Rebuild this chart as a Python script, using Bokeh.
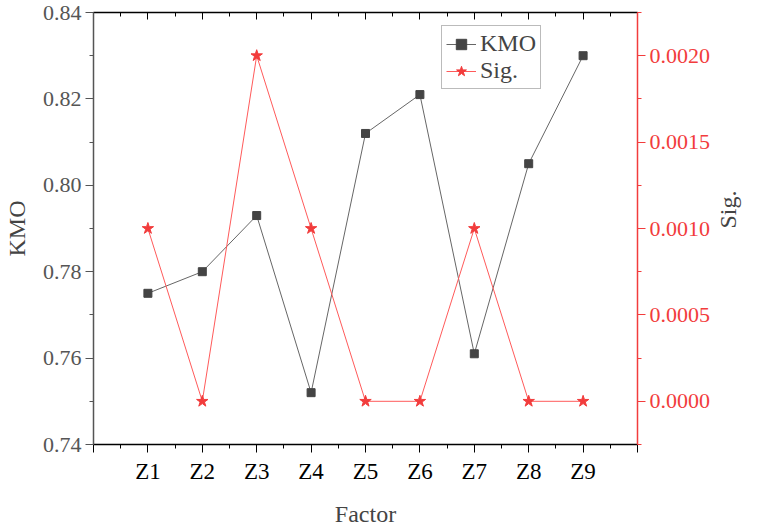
import math
from bokeh.plotting import figure
from bokeh.models import (LinearAxis, Range1d, FixedTicker, NumeralTickFormatter,
                          Legend, LegendItem)
from bokeh.embed import file_html
from bokeh.resources import INLINE

factors = ["Z1", "Z2", "Z3", "Z4", "Z5", "Z6", "Z7", "Z8", "Z9"]
kmo = [0.775, 0.780, 0.793, 0.752, 0.812, 0.821, 0.761, 0.805, 0.830]
sig = [0.001, 0.000, 0.002, 0.001, 0.000, 0.000, 0.001, 0.000, 0.000]

xpos = list(range(1, len(factors) + 1))
FONT = "'Liberation Serif', 'Times New Roman', serif"
RED = "#f23c3c"
GRAY = "#555555"

p = figure(width=757, height=529, output_backend="svg", toolbar_location=None,
           x_range=Range1d(0, 10), y_range=Range1d(0.74, 0.84),
           min_border_left=92, min_border_right=118, min_border_top=12,
           min_border_bottom=79, x_axis_location=None, y_axis_location=None)
p.xgrid.visible = False
p.ygrid.visible = False
p.outline_line_color = None
p.extra_y_ranges = {"sig": Range1d(-0.00025, 0.00225)}

# bottom axis
xt = FixedTicker(ticks=list(range(0, 11)), minor_ticks=[i + 0.5 for i in range(0, 10)])
xb = LinearAxis(ticker=xt, axis_label="Factor")
xb.major_label_overrides = {i: (factors[i - 1] if 1 <= i <= 9 else "") for i in range(0, 11)}
xb.axis_line_color = "black"
xb.major_tick_line_color = "black"
xb.minor_tick_line_color = "black"
xb.major_tick_in = 0
xb.major_tick_out = 8
xb.minor_tick_in = 0
xb.minor_tick_out = 4
xb.axis_line_width = 1.5
xb.major_label_text_font = FONT
xb.major_label_text_font_size = "23px"
xb.major_label_text_color = "black"
xb.major_label_standoff = 6
xb.axis_label_text_font = FONT
xb.axis_label_text_font_size = "24px"
xb.axis_label_text_font_style = "normal"
xb.axis_label_standoff = 14
p.add_layout(xb, "below")

# top axis (mirror, inward ticks, no labels)
xtop = LinearAxis(ticker=xt)
xtop.major_label_overrides = {i: "" for i in range(0, 11)}
xtop.major_label_text_font_size = "1px"
xtop.major_label_standoff = 0
xtop.major_tick_in = 7
xtop.major_tick_out = 0
xtop.minor_tick_in = 4
xtop.minor_tick_out = 0
xtop.axis_line_width = 1.5
xtop.axis_line_color = "black"
p.add_layout(xtop, "above")

# left axis
yl = LinearAxis(ticker=FixedTicker(ticks=[0.74, 0.76, 0.78, 0.80, 0.82, 0.84],
                                   minor_ticks=[0.75, 0.77, 0.79, 0.81, 0.83]),
                axis_label="KMO", formatter=NumeralTickFormatter(format="0.00"))
yl.axis_line_color = GRAY
yl.axis_line_width = 1.5
yl.major_tick_line_color = GRAY
yl.minor_tick_line_color = GRAY
yl.major_tick_in = 0
yl.major_tick_out = 8
yl.minor_tick_in = 0
yl.minor_tick_out = 4
yl.major_label_text_font = FONT
yl.major_label_text_font_size = "22px"
yl.major_label_text_color = GRAY
yl.major_label_standoff = 4
yl.axis_label_text_font = FONT
yl.axis_label_text_font_size = "24px"
yl.axis_label_text_font_style = "normal"
yl.axis_label_standoff = 10
p.add_layout(yl, "left")

# right axis
yr = LinearAxis(y_range_name="sig",
                ticker=FixedTicker(ticks=[0.0, 0.0005, 0.001, 0.0015, 0.002],
                                   minor_ticks=[-0.00025, 0.00025, 0.00075, 0.00125, 0.00175, 0.00225]),
                axis_label="Sig.", formatter=NumeralTickFormatter(format="0.0000"))
yr.axis_line_color = RED
yr.axis_line_width = 1.5
yr.major_tick_line_color = RED
yr.minor_tick_line_color = RED
yr.major_tick_in = 0
yr.major_tick_out = 8
yr.minor_tick_in = 0
yr.minor_tick_out = 4
yr.major_label_text_font = FONT
yr.major_label_text_font_size = "22px"
yr.major_label_text_color = RED
yr.major_label_standoff = 4
yr.axis_label_text_font = FONT
yr.axis_label_text_font_size = "24px"
yr.axis_label_text_font_style = "normal"
yr.axis_label_orientation = math.pi / 2
yr.axis_label_standoff = 15
p.add_layout(yr, "right")

# series
l1 = p.line(xpos, kmo, line_color="#666666", line_width=1)
m1 = p.scatter(xpos, kmo, marker="square", size=8, fill_color="#444444", line_color="#444444")
l2 = p.line(xpos, sig, line_color="#ff5a5a", line_width=1, y_range_name="sig")
m2 = p.scatter(xpos, sig, marker="star", size=12, fill_color=RED, line_color=RED,
               y_range_name="sig")

legend = Legend(items=[LegendItem(label="KMO", renderers=[l1, m1]),
                       LegendItem(label="Sig.", renderers=[l2, m2])],
                location=(348, 355))
legend.label_text_font = FONT
legend.label_text_font_size = "24px"
legend.border_line_color = "#777777"
legend.border_line_width = 1.2
legend.padding = 4
legend.spacing = 0
legend.margin = 0
legend.glyph_width = 30
legend.glyph_height = 26
legend.label_height = 26
legend.label_standoff = 4
legend.background_fill_alpha = 1
p.add_layout(legend, "center")

open("out.html", "w").write(file_html(p, INLINE))
